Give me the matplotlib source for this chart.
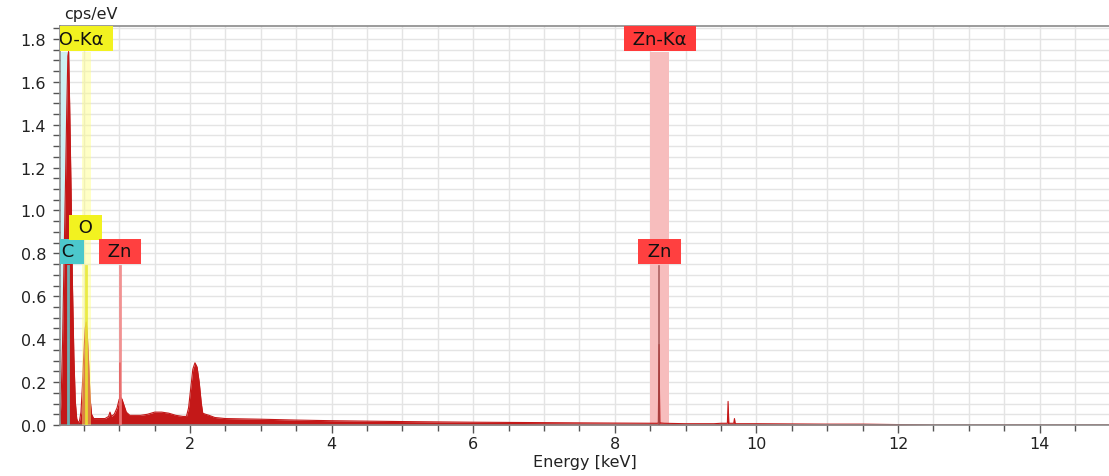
import matplotlib
matplotlib.use("Agg")
import matplotlib.pyplot as plt
from matplotlib.ticker import MultipleLocator, FormatStrFormatter

# EDS spectrum (energy keV, counts cps/eV)
energy = [
    0.164, 0.18, 0.20, 0.22, 0.24, 0.26, 0.275, 0.285, 0.30, 0.32, 0.34, 0.36, 0.38, 0.40, 0.42,
    0.44, 0.46, 0.48, 0.50, 0.52, 0.535, 0.55, 0.57, 0.59, 0.61, 0.64, 0.70, 0.80, 0.85, 0.87,
    0.89, 0.93, 0.97, 1.00, 1.005, 1.01, 1.015, 1.02, 1.04, 1.07, 1.10, 1.15, 1.20, 1.30, 1.40,
    1.50, 1.60, 1.70, 1.80, 1.90, 1.95, 1.98, 2.01, 2.04, 2.07, 2.10, 2.13, 2.16, 2.18, 2.22,
    2.27, 2.35, 2.50, 3.00, 3.50, 4.00, 5.00, 6.00, 7.00, 8.00, 8.60, 8.615, 8.625, 8.635, 8.70,
    9.00, 9.40, 9.50, 9.59, 9.60, 9.61, 9.68, 9.69, 9.70, 10.0, 11.0, 11.5, 12.0, 12.3, 12.5, 15.0,
]
counts = [
    0.02, 0.12, 0.38, 0.75, 1.10, 1.48, 1.72, 1.74, 1.50, 1.10, 0.65, 0.32, 0.11, 0.03, 0.01,
    0.02, 0.06, 0.18, 0.33, 0.45, 0.48, 0.42, 0.28, 0.12, 0.05, 0.03, 0.03, 0.03, 0.04, 0.06,
    0.04, 0.05, 0.08, 0.12, 0.12, 0.29, 0.29, 0.13, 0.12, 0.09, 0.06, 0.045, 0.045, 0.045, 0.05,
    0.06, 0.06, 0.055, 0.045, 0.04, 0.04, 0.08, 0.17, 0.26, 0.29, 0.27, 0.20, 0.10, 0.055, 0.05,
    0.045, 0.035, 0.03, 0.027, 0.023, 0.02, 0.016, 0.013, 0.011, 0.009, 0.008, 0.01, 0.375, 0.01, 0.008,
    0.006, 0.006, 0.008, 0.008, 0.11, 0.008, 0.008, 0.03, 0.006, 0.006, 0.004, 0.004, 0.002, 0.001, 0.0, 0.0,
]

# element markers: label, line energy, marker colour, label y
markers = ["C", "O", "Zn", "Zn"]
marker_energy = [0.277, 0.525, 1.012, 8.63]
marker_label_y = [0.81, 0.922, 0.81, 0.81]
marker_box = ["#4CC8CC", "#F2F220", "#FF4040", "#FF4040"]
marker_line = ["#5FC8CC", "#E8E830", "#F08080", "#A05050"]
marker_top = 0.74

# highlighted line windows: label, start, end, colour
bands = ["C-Kα", "O-Kα", "Zn-Kα"]
band_start = [0.18, 0.475, 8.50]
band_end = [0.30, 0.60, 8.76]
band_color = ["#CDEFF2", "#FFFF80", "#F7BDBD"]
band_label_x = [None, 0.465, 8.64]

SPEC = "#C41818"
GRID = "#E4E4E4"
AXIS = "#8A8A8A"
TEXT = "#222222"

plt.rcParams.update({"font.family": "DejaVu Sans", "font.size": 11})

fig = plt.figure(figsize=(11.09, 4.77), dpi=100)
ax = fig.add_axes([60 / 1109, 1 - 426 / 477, 1 - 60 / 1109, (426 - 27) / 477])

# window bands sit under the spectrum, except the O window which tints it
for lab, x0, x1, col in zip(bands, band_start, band_end, band_color):
    over = lab == "O-Kα"
    ax.axvspan(x0, x1, ymin=0, ymax=1.74 / 1.86, color=col, alpha=0.45 if over else 1.0,
               linewidth=0, zorder=3 if over else 1)

ax.fill_between(energy, counts, 0, color=SPEC, linewidth=0, zorder=2)
ax.plot(energy, counts, color=SPEC, linewidth=0.8, zorder=2)

for lab, ex, ly, bc, lc in zip(markers, marker_energy, marker_label_y, marker_box, marker_line):
    lw = 1.2 if ex > 5 else 2.0
    ax.plot([ex, ex], [0, marker_top], color=lc, linewidth=lw, alpha=0.85, zorder=4)
    ax.text(ex, ly, f" {lab} ", ha="center", va="center", fontsize=13, color="#111111", zorder=6,
            clip_on=True,
            bbox={"boxstyle": "square,pad=0.2", "facecolor": bc, "edgecolor": "none"})

for lab, lx, col in zip(bands, band_label_x, ["#4CC8CC", "#F2F220", "#FF3A3A"]):
    if lx is None:
        continue
    ax.text(lx, 1.80, f" {lab} ", ha="center", va="center", fontsize=13, color="#111111", zorder=6,
            clip_on=True,
            bbox={"boxstyle": "square,pad=0.2", "facecolor": col, "edgecolor": "none"})

ax.set_xlim(0.164, 14.98)
ax.set_ylim(0, 1.86)
ax.xaxis.set_major_locator(MultipleLocator(2))
ax.xaxis.set_minor_locator(MultipleLocator(0.5))
ax.yaxis.set_major_locator(MultipleLocator(0.2))
ax.yaxis.set_minor_locator(MultipleLocator(0.05))
ax.yaxis.set_major_formatter(FormatStrFormatter("%.1f"))

ax.grid(True, which="both", color=GRID, linewidth=1.0, zorder=0)
ax.set_axisbelow(True)
ax.spines["right"].set_visible(False)
for side in ("left", "bottom", "top"):
    ax.spines[side].set_color(AXIS)
    ax.spines[side].set_linewidth(1.2)

ax.tick_params(axis="both", which="both", direction="out", color="#555555", labelcolor=TEXT)
ax.tick_params(axis="y", which="both", length=5, width=1, pad=5, labelsize=11.5)
ax.tick_params(axis="x", which="major", length=6, width=1, pad=2, labelsize=11.5)
ax.tick_params(axis="x", which="minor", length=4, width=1)

ax.set_xlabel("Energy [keV]", fontsize=11.5, color=TEXT, labelpad=2)
fig.text(91 / 1109, 1 - 15 / 477, "cps/eV", ha="center", va="center", fontsize=11.5, color=TEXT)

fig.savefig("out.png", dpi=100)
